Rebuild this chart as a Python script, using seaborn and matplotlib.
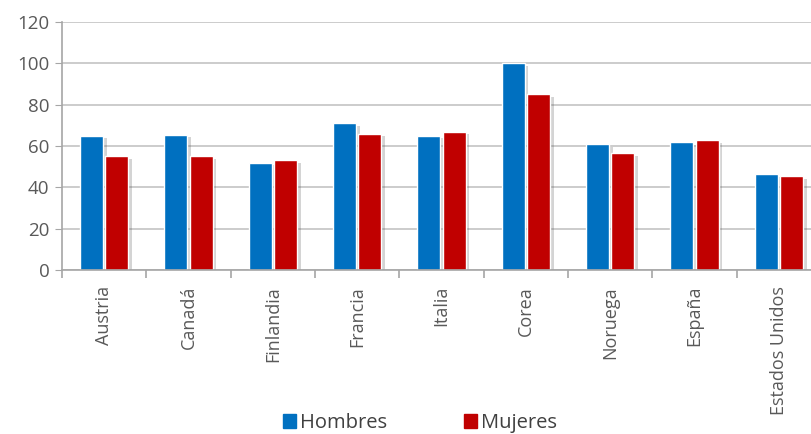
import pandas as pd
import seaborn as sns
import matplotlib.pyplot as plt
import matplotlib.patheffects as pe
from matplotlib.patches import Patch

# values
paises = ["Austria", "Canadá", "Finlandia", "Francia", "Italia",
          "Corea", "Noruega", "España", "Estados Unidos"]
hombres = [65, 65.5, 52, 71, 65, 100, 61, 62, 46.5]
mujeres = [55, 55, 53, 66, 67, 85, 56.5, 63, 45.5]
series = ["Hombres", "Mujeres"]
colores = ["#0070C0", "#C00000"]

df = pd.DataFrame({
    "pais": paises * 2,
    "valor": hombres + mujeres,
    "sexo": [series[0]] * len(paises) + [series[1]] * len(paises),
})

sns.set_style("white")
plt.rcParams["font.family"] = ["Open Sans", "DejaVu Sans"]

fig = plt.figure(figsize=(8.12, 4.34), dpi=100)
# axes runs a little past the right edge, like the cropped original
ax = fig.add_axes([62 / 812, 164 / 434, 759 / 812, 248 / 434])

sns.barplot(data=df, x="pais", y="valor", hue="sexo", order=paises,
            hue_order=series, palette=colores, width=0.6, gap=0.08,
            saturation=1, ax=ax, legend=False)

# soft drop shadow on the bars
for bar in ax.patches:
    bar.set_path_effects([pe.SimplePatchShadow(offset=(2.5, -2), alpha=0.25,
                                               shadow_rgbFace="#555555"),
                          pe.Normal()])

ax.set_xlim(-0.5, len(paises) - 0.5)
ax.set_ylim(0, 120)
ax.set_yticks(range(0, 121, 20))
ax.set_xlabel("")
ax.set_ylabel("")

gris = "#a6a6a6"
ax.yaxis.grid(True, color="#c4c4c4", linewidth=1.2)
ax.set_axisbelow(True)
for side in ["top", "right"]:
    ax.spines[side].set_visible(False)
for side in ["left", "bottom"]:
    ax.spines[side].set_color(gris)
    ax.spines[side].set_linewidth(1.2)

ax.tick_params(axis="y", left=True, length=5, color=gris, labelsize=13.5,
               labelcolor="#595959", pad=4)
ax.set_xticks(range(len(paises)))
ax.set_xticklabels(paises, rotation=90, fontsize=13, color="#595959")
ax.tick_params(axis="x", bottom=False, pad=8)
# category boundary ticks
ax.set_xticks([i - 0.5 for i in range(len(paises) + 1)], minor=True)
ax.tick_params(axis="x", which="minor", bottom=True, length=6, color=gris, width=1.2)

handles = [Patch(color=c, label=s) for c, s in zip(colores, series)]
fig.legend(handles=handles, loc="center", bbox_to_anchor=(420 / 812, 1 - 423 / 434),
           ncol=2, frameon=False, fontsize=14.5, handlelength=0.65, handleheight=0.65,
           handletextpad=0.2, columnspacing=3.8, labelcolor="#404040")

fig.savefig("out.png", dpi=100)
